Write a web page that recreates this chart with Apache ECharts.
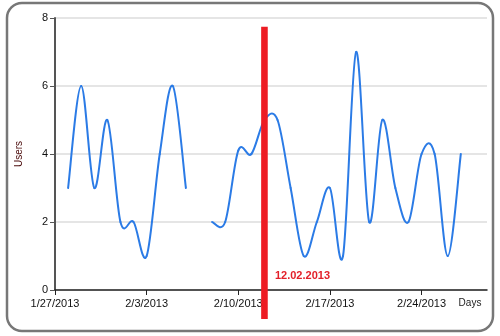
<!DOCTYPE html>
<html>
<head>
<meta charset="utf-8">
<script src="https://cdn.jsdelivr.net/npm/echarts@6/dist/echarts.min.js"></script>
<style>
html,body{margin:0;padding:0;background:#fff;}
#chart{width:500px;height:336px;}
</style>
</head>
<body>
<div id="chart"></div>
<script>
// ---- data ----
var axisStart = '2013-01-27';
var axisEnd = '2013-03-01';
var dates = ['2013-01-28','2013-01-29','2013-01-30','2013-01-31','2013-02-01','2013-02-02','2013-02-03','2013-02-04','2013-02-05','2013-02-06','2013-02-07','2013-02-08','2013-02-09','2013-02-10','2013-02-11','2013-02-12','2013-02-13','2013-02-14','2013-02-15','2013-02-16','2013-02-17','2013-02-18','2013-02-19','2013-02-20','2013-02-21','2013-02-22','2013-02-23','2013-02-24','2013-02-25','2013-02-26','2013-02-27'];
var users = [3,6,3,5,2,2,1,4,6,3,null,2,2,4.1,4,5,5,3,1,2,3,1,7,2,5,3,2,4,4,1,4];
var tickDates = ['2013-01-27','2013-02-03','2013-02-10','2013-02-17','2013-02-24'];
var yTicks = [0,2,4,6,8];
var markerDate = '2013-02-12';
var markerLabel = '12.02.2013';
var xName = 'Days';
var yName = 'Users';

// ---- helpers ----
var DAY = 86400000;
function ms(s){ var p = s.split('-'); return Date.UTC(+p[0], +p[1]-1, +p[2]); }
var base = ms(axisStart);
function dayIdx(s){ return Math.round((ms(s) - base) / DAY); }
function fmt(v){ var d = new Date(base + v*DAY); return (d.getUTCMonth()+1) + '/' + d.getUTCDate() + '/' + d.getUTCFullYear(); }

var lineData = dates.map(function(d, i){ return [dayIdx(d), users[i]]; });
var tickVals = tickDates.map(dayIdx);
var TENSION = 1/6;

function valid(i){ return i >= 0 && i < lineData.length && lineData[i][1] != null; }

var chart = echarts.init(document.getElementById('chart'), null, {renderer:'canvas'});
var font = '"Liberation Sans", Arial, sans-serif';

chart.setOption({
  animation: false,
  textStyle: {fontFamily: font},
  graphic: [{
    type: 'rect', z: -10, silent: true,
    shape: {x: 7, y: 3, width: 486, height: 328, r: 15},
    style: {fill: '#fff', stroke: '#777', lineWidth: 2.5}
  }],
  grid: {left: 55, right: 13, top: 18, bottom: 46, containLabel: false},
  xAxis: {
    type: 'value',
    min: 0, max: dayIdx(axisEnd), interval: 7,
    name: xName,
    nameLocation: 'end',
    nameGap: -17,
    nameTextStyle: {fontSize: 10, color: '#222', align: 'center', verticalAlign: 'top', padding: [8,0,0,0], fontFamily: font},
    axisLine: {show: true, onZero: false, lineStyle: {color: '#222', width: 1.5}},
    axisTick: {show: true, length: 5, customValues: tickVals, lineStyle: {color: '#222'}},
    axisLabel: {customValues: tickVals, formatter: function(v){ return fmt(v); }, fontSize: 11, color: '#111', margin: 8, fontFamily: font},
    splitLine: {show: false}
  },
  yAxis: {
    type: 'value',
    min: yTicks[0], max: yTicks[yTicks.length-1], interval: yTicks[1]-yTicks[0],
    name: yName,
    nameLocation: 'middle',
    nameGap: 31,
    nameRotate: 90,
    nameTextStyle: {fontSize: 10, color: '#4a0a0a', fontFamily: font},
    axisLine: {show: true, lineStyle: {color: '#555', width: 2}},
    axisTick: {show: true, length: 5, lineStyle: {color: '#555'}},
    axisLabel: {fontSize: 11, color: '#111', margin: 7, fontFamily: font},
    splitLine: {show: true, lineStyle: {color: '#dcdcdc', width: 1.5}}
  },
  series: [{
    // spline (Catmull-Rom) line drawn through the axis scales
    type: 'custom',
    data: lineData,
    encode: {x: 0, y: 1},
    clip: true,
    z: 3,
    renderItem: function(params, api){
      var i = params.dataIndex;
      if (!valid(i) || !valid(i+1)) return null;
      var p1 = api.coord(lineData[i]);
      var p2 = api.coord(lineData[i+1]);
      var p0 = valid(i-1) ? api.coord(lineData[i-1]) : p1;
      var p3 = valid(i+2) ? api.coord(lineData[i+2]) : p2;
      return {
        type: 'bezierCurve',
        shape: {
          x1: p1[0], y1: p1[1], x2: p2[0], y2: p2[1],
          cpx1: p1[0] + (p2[0]-p0[0])*TENSION, cpy1: p1[1] + (p2[1]-p0[1])*TENSION,
          cpx2: p2[0] - (p3[0]-p1[0])*TENSION, cpy2: p2[1] - (p3[1]-p1[1])*TENSION
        },
        style: {stroke: '#2b7be6', lineWidth: 2, fill: null, lineCap: 'round'}
      };
    }
  }, {
    type: 'custom',
    data: [[dayIdx(markerDate)]],
    clip: false,
    z: 5,
    renderItem: function(params, api){
      var x = api.coord([api.value(0), 0])[0];
      var top = api.coord([api.value(0), 7.74])[1];
      var bottom = api.coord([api.value(0), -0.85])[1];
      var axisY = api.coord([api.value(0), 0])[1];
      return {
        type: 'group',
        children: [{
          type: 'rect',
          shape: {x: x - 3.3, y: top, width: 6.6, height: bottom - top},
          style: {fill: '#ed1c24'}
        }, {
          type: 'text',
          style: {
            x: x + 10.5, y: axisY - 14,
            text: markerLabel,
            fill: '#e3202a',
            font: 'bold 11px ' + font,
            textAlign: 'left', textVerticalAlign: 'middle'
          }
        }]
      };
    }
  }]
});
</script>
</body>
</html>
